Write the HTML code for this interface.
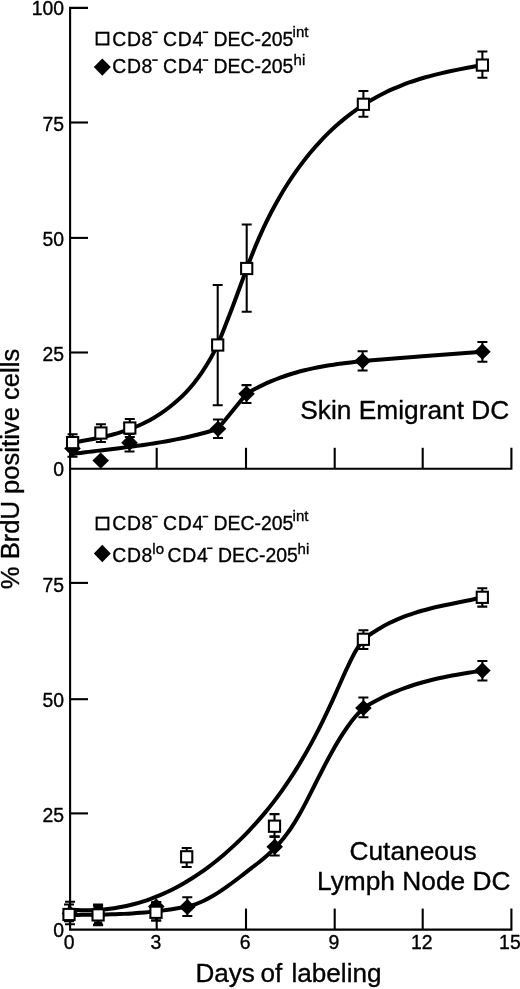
<!DOCTYPE html>
<html><head><meta charset="utf-8"><title>BrdU labeling of dendritic cells</title>
<style>html,body{margin:0;padding:0;background:#fff}body{width:520px;height:989px;overflow:hidden}svg{display:block}text{stroke:#000;stroke-width:0.35px;stroke-linejoin:round}</style>
</head><body>
<svg width="520" height="989" viewBox="0 0 520 989" font-family='"Liberation Sans", sans-serif' fill="#000">
<g fill="none" stroke="#000" stroke-width="2.10" stroke-linecap="butt" stroke-linejoin="miter">
<path d="M88,7.9 H70.10 V929.60 H511.4 V908.60"/>
<path d="M70.10,468.80 H511.4 V447.80"/>
<path d="M70.10,122.50 H88"/>
<path d="M70.10,237.90 H88"/>
<path d="M70.10,352.50 H88"/>
<path d="M70.10,582.90 H88"/>
<path d="M70.10,699.20 H88"/>
<path d="M70.10,813.40 H88"/>
<path d="M156.70,468.80 V447.80"/>
<path d="M156.70,929.60 V908.60"/>
<path d="M246.00,468.80 V447.80"/>
<path d="M246.00,929.60 V908.60"/>
<path d="M334.70,468.80 V447.80"/>
<path d="M334.70,929.60 V908.60"/>
<path d="M422.70,468.80 V447.80"/>
<path d="M422.70,929.60 V908.60"/>
</g>
<g fill="none" stroke="#000" stroke-width="4.00" stroke-linecap="round" stroke-linejoin="round">
<path d="M72.60,442.80 C73.94,442.55 77.97,441.81 80.66,441.32 C83.35,440.82 86.04,440.33 88.72,439.82 C91.41,439.31 94.10,438.79 96.78,438.23 C99.47,437.68 102.16,437.11 104.84,436.48 C107.53,435.86 110.22,435.21 112.91,434.49 C115.59,433.77 118.28,433.01 120.97,432.18 C123.65,431.34 126.34,430.45 129.03,429.47 C131.71,428.48 134.40,427.43 137.09,426.28 C139.78,425.13 142.46,423.89 145.15,422.54 C147.84,421.19 150.52,419.75 153.21,418.18 C155.90,416.60 158.59,414.93 161.27,413.10 C163.96,411.28 166.65,409.35 169.33,407.25 C172.02,405.15 174.71,402.95 177.39,400.53 C180.08,398.12 182.77,395.58 185.46,392.76 C188.14,389.95 190.83,386.96 193.52,383.64 C196.20,380.32 198.89,376.77 201.58,372.85 C204.26,368.92 206.95,364.71 209.64,360.07 C212.33,355.43 216.36,347.51 217.70,345.00 M217.70,345.00 C220.27,338.42 228.27,318.25 233.10,305.50 C237.93,292.75 244.43,274.67 246.70,268.50 M246.70,268.50 C248.05,265.03 252.12,254.27 254.83,247.70 C257.54,241.14 260.25,234.98 262.96,229.12 C265.66,223.25 268.37,217.76 271.08,212.51 C273.79,207.27 276.50,202.35 279.21,197.64 C281.92,192.94 284.63,188.52 287.34,184.28 C290.05,180.03 292.76,176.03 295.47,172.17 C298.17,168.31 300.88,164.64 303.59,161.12 C306.30,157.59 309.01,154.23 311.72,151.01 C314.43,147.80 317.14,144.73 319.85,141.80 C322.56,138.87 325.27,136.08 327.98,133.41 C330.69,130.74 333.39,128.21 336.10,125.78 C338.81,123.36 341.52,121.06 344.23,118.85 C346.94,116.65 349.65,114.56 352.36,112.56 C355.07,110.56 357.78,108.66 360.49,106.84 C363.20,105.03 365.90,103.30 368.61,101.66 C371.32,100.01 374.03,98.46 376.74,96.97 C379.45,95.48 382.16,94.08 384.87,92.74 C387.58,91.41 390.29,90.14 393.00,88.94 C395.71,87.74 398.41,86.61 401.12,85.53 C403.83,84.45 406.54,83.44 409.25,82.48 C411.96,81.51 414.67,80.61 417.38,79.74 C420.09,78.88 422.80,78.07 425.51,77.29 C428.22,76.51 430.93,75.79 433.63,75.09 C436.34,74.39 439.05,73.73 441.76,73.10 C444.47,72.46 447.18,71.86 449.89,71.28 C452.60,70.70 455.31,70.15 458.02,69.61 C460.73,69.07 463.44,68.56 466.14,68.05 C468.85,67.54 471.56,67.05 474.27,66.56 C476.98,66.07 481.05,65.34 482.40,65.10"/>
<path d="M72.50,454.00 C73.85,453.82 77.89,453.27 80.58,452.92 C83.28,452.56 85.97,452.22 88.67,451.88 C91.36,451.54 94.06,451.21 96.75,450.88 C99.44,450.55 102.14,450.23 104.83,449.90 C107.53,449.57 110.22,449.25 112.92,448.92 C115.61,448.59 118.31,448.26 121.00,447.92 C123.69,447.58 126.39,447.24 129.08,446.89 C131.78,446.54 134.47,446.19 137.17,445.82 C139.86,445.45 142.56,445.07 145.25,444.68 C147.94,444.28 150.64,443.88 153.33,443.45 C156.03,443.03 158.72,442.59 161.42,442.13 C164.11,441.68 166.81,441.20 169.50,440.70 C172.19,440.20 174.89,439.68 177.58,439.14 C180.28,438.59 182.97,438.03 185.67,437.43 C188.36,436.83 191.06,436.21 193.75,435.56 C196.44,434.90 199.14,434.22 201.83,433.51 C204.53,432.79 207.22,432.04 209.92,431.26 C212.61,430.47 216.65,429.21 218.00,428.80 M218.00,428.80 C222.75,422.97 241.75,399.63 246.50,393.80 M246.50,393.80 C247.88,393.01 252.03,390.57 254.79,389.09 C257.56,387.61 260.32,386.21 263.09,384.90 C265.85,383.58 268.61,382.34 271.38,381.18 C274.14,380.01 276.91,378.92 279.67,377.90 C282.44,376.87 285.20,375.92 287.96,375.02 C290.73,374.12 293.49,373.29 296.26,372.50 C299.02,371.72 301.79,370.99 304.55,370.31 C307.31,369.63 310.08,369.01 312.84,368.41 C315.61,367.82 318.37,367.28 321.14,366.77 C323.90,366.25 326.66,365.78 329.43,365.33 C332.19,364.89 334.96,364.47 337.72,364.08 C340.49,363.68 343.25,363.32 346.01,362.96 C348.78,362.61 351.54,362.28 354.31,361.95 C357.07,361.62 361.22,361.16 362.60,361.00 M362.60,361.00 C382.57,359.45 462.43,353.25 482.40,351.70"/>
<path d="M69.00,909.60 C70.36,909.68 74.45,910.00 77.18,910.11 C79.90,910.23 82.63,910.29 85.36,910.30 C88.08,910.30 90.81,910.25 93.53,910.14 C96.26,910.03 98.99,909.86 101.71,909.64 C104.44,909.41 107.16,909.12 109.89,908.77 C112.61,908.42 115.34,908.02 118.07,907.54 C120.79,907.07 123.52,906.54 126.24,905.94 C128.97,905.34 131.70,904.68 134.42,903.95 C137.15,903.22 139.87,902.43 142.60,901.56 C145.33,900.70 148.05,899.78 150.78,898.78 C153.50,897.78 156.23,896.72 158.96,895.58 C161.68,894.45 164.41,893.24 167.13,891.97 C169.86,890.69 172.59,889.35 175.31,887.92 C178.04,886.50 180.76,885.01 183.49,883.44 C186.21,881.88 188.94,880.24 191.67,878.52 C194.39,876.80 197.12,875.01 199.84,873.14 C202.57,871.27 205.30,869.32 208.02,867.29 C210.75,865.26 213.47,863.16 216.20,860.97 C218.93,858.79 221.65,856.52 224.38,854.18 C227.10,851.83 229.83,849.40 232.56,846.89 C235.28,844.38 238.01,841.78 240.73,839.10 C243.46,836.42 246.19,833.66 248.91,830.80 C251.64,827.93 254.36,824.98 257.09,821.91 C259.81,818.84 262.54,815.67 265.27,812.37 C267.99,809.07 270.72,805.66 273.44,802.11 C276.17,798.56 278.90,794.89 281.62,791.07 C284.35,787.24 287.07,783.29 289.80,779.16 C292.53,775.04 295.25,770.78 297.98,766.34 C300.70,761.90 303.43,757.30 306.16,752.52 C308.88,747.74 311.61,742.79 314.33,737.64 C317.06,732.49 319.79,727.16 322.51,721.63 C325.24,716.09 327.96,710.31 330.69,704.41 C333.41,698.51 336.14,692.26 338.87,686.23 C341.59,680.19 344.32,673.92 347.04,668.19 C349.77,662.45 352.50,656.63 355.22,651.82 C357.95,647.00 362.04,641.39 363.40,639.30 M363.40,639.30 C364.82,638.29 369.06,635.11 371.89,633.22 C374.72,631.32 377.55,629.57 380.39,627.92 C383.22,626.27 386.05,624.76 388.88,623.33 C391.71,621.91 394.54,620.60 397.37,619.37 C400.20,618.15 403.03,617.02 405.86,615.97 C408.70,614.91 411.53,613.95 414.36,613.04 C417.19,612.12 420.02,611.29 422.85,610.50 C425.68,609.71 428.51,608.98 431.34,608.28 C434.17,607.58 437.00,606.94 439.84,606.31 C442.67,605.67 445.50,605.08 448.33,604.49 C451.16,603.90 453.99,603.34 456.82,602.76 C459.65,602.19 462.48,601.62 465.31,601.04 C468.15,600.45 470.98,599.87 473.81,599.24 C476.64,598.62 480.88,597.62 482.30,597.30"/>
<path d="M69.00,914.90 C70.41,914.90 74.63,914.89 77.45,914.88 C80.27,914.87 83.08,914.85 85.90,914.83 C88.72,914.81 91.53,914.78 94.35,914.74 C97.17,914.70 99.98,914.65 102.80,914.59 C105.62,914.53 108.43,914.45 111.25,914.36 C114.07,914.27 116.88,914.17 119.70,914.05 C122.52,913.93 125.33,913.79 128.15,913.63 C130.97,913.47 133.78,913.30 136.60,913.10 C139.42,912.89 142.23,912.67 145.05,912.42 C147.87,912.17 150.68,911.90 153.50,911.60 C156.32,911.30 159.13,910.97 161.95,910.61 C164.77,910.25 167.58,909.86 170.40,909.44 C173.22,909.02 176.03,908.57 178.85,908.08 C181.67,907.59 185.89,906.76 187.30,906.50 M187.30,906.50 C188.63,906.13 192.64,905.20 195.30,904.28 C197.97,903.36 200.64,902.24 203.31,900.99 C205.98,899.74 208.65,898.31 211.31,896.79 C213.98,895.27 216.65,893.60 219.32,891.86 C221.99,890.12 224.65,888.26 227.32,886.36 C229.99,884.47 232.66,882.48 235.33,880.48 C238.00,878.48 240.66,876.41 243.33,874.36 C246.00,872.32 248.67,870.27 251.34,868.20 C254.00,866.13 256.67,864.12 259.34,861.96 C262.01,859.80 264.68,857.63 267.35,855.23 C270.01,852.83 272.68,850.35 275.35,847.57 C278.02,844.78 280.69,841.84 283.35,838.51 C286.02,835.19 288.69,831.62 291.36,827.62 C294.03,823.61 296.70,819.17 299.36,814.50 C302.03,809.83 304.70,804.71 307.37,799.59 C310.04,794.46 312.70,789.04 315.37,783.77 C318.04,778.50 320.71,773.10 323.38,767.96 C326.05,762.83 328.71,757.75 331.38,752.95 C334.05,748.15 336.72,743.50 339.39,739.17 C342.05,734.84 344.72,730.75 347.39,726.98 C350.06,723.21 352.73,719.71 355.40,716.54 C358.06,713.38 362.07,709.42 363.40,708.00 M363.40,708.00 C364.82,707.16 369.07,704.55 371.90,702.96 C374.73,701.36 377.57,699.86 380.40,698.43 C383.23,697.00 386.07,695.66 388.90,694.38 C391.73,693.11 394.57,691.91 397.40,690.77 C400.23,689.64 403.07,688.58 405.90,687.57 C408.73,686.56 411.57,685.62 414.40,684.73 C417.23,683.84 420.07,683.00 422.90,682.21 C425.73,681.42 428.57,680.69 431.40,679.99 C434.23,679.29 437.07,678.64 439.90,678.02 C442.73,677.39 445.57,676.81 448.40,676.26 C451.23,675.70 454.07,675.18 456.90,674.67 C459.73,674.17 462.57,673.69 465.40,673.23 C468.23,672.76 471.07,672.32 473.90,671.88 C476.73,671.44 480.98,670.81 482.40,670.60"/>
</g>
<g stroke="#000" stroke-width="2.05" fill="none">
<path d="M72.50,440.00 V456.70 M67.50,440.00 h10.00 M67.50,456.70 h10.00"/>
<path d="M129.50,434.00 V451.50 M124.50,434.00 h10.00 M124.50,451.50 h10.00"/>
<path d="M218.00,419.40 V438.00 M213.00,419.40 h10.00 M213.00,438.00 h10.00"/>
<path d="M246.50,385.10 V403.00 M241.50,385.10 h10.00 M241.50,403.00 h10.00"/>
<path d="M362.60,351.30 V370.40 M357.60,351.30 h10.00 M357.60,370.40 h10.00"/>
<path d="M482.40,341.90 V361.70 M477.40,341.90 h10.00 M477.40,361.70 h10.00"/>
<path d="M70.00,901.80 V924.30 M65.00,901.80 h10.00 M65.00,924.30 h10.00"/>
<path d="M98.10,904.50 V925.30 M93.10,904.50 h10.00 M93.10,925.30 h10.00"/>
<path d="M156.30,902.00 V920.40 M151.30,902.00 h10.00 M151.30,920.40 h10.00"/>
<path d="M187.30,897.20 V916.00 M182.30,897.20 h10.00 M182.30,916.00 h10.00"/>
<path d="M274.70,836.60 V855.50 M269.70,836.60 h10.00 M269.70,855.50 h10.00"/>
<path d="M363.40,697.50 V717.30 M358.40,697.50 h10.00 M358.40,717.30 h10.00"/>
<path d="M482.40,660.90 V680.40 M477.40,660.90 h10.00 M477.40,680.40 h10.00"/>
<path d="M72.60,434.20 V451.00 M67.60,434.20 h10.00 M67.60,451.00 h10.00"/>
<path d="M100.90,424.20 V442.00 M95.90,424.20 h10.00 M95.90,442.00 h10.00"/>
<path d="M129.80,419.00 V437.00 M124.80,419.00 h10.00 M124.80,437.00 h10.00"/>
<path d="M217.70,285.00 V405.30 M212.70,285.00 h10.00 M212.70,405.30 h10.00"/>
<path d="M246.70,224.50 V311.80 M241.70,224.50 h10.00 M241.70,311.80 h10.00"/>
<path d="M363.40,90.90 V116.80 M358.40,90.90 h10.00 M358.40,116.80 h10.00"/>
<path d="M482.40,51.40 V77.80 M477.40,51.40 h10.00 M477.40,77.80 h10.00"/>
<path d="M69.00,904.50 V921.20 M64.00,904.50 h10.00 M64.00,921.20 h10.00"/>
<path d="M98.10,905.50 V924.50 M93.10,905.50 h10.00 M93.10,924.50 h10.00"/>
<path d="M156.00,903.00 V920.40 M151.00,903.00 h10.00 M151.00,920.40 h10.00"/>
<path d="M186.70,848.00 V866.90 M181.70,848.00 h10.00 M181.70,866.90 h10.00"/>
<path d="M274.50,814.10 V836.60 M269.50,814.10 h10.00 M269.50,836.60 h10.00"/>
<path d="M363.40,630.20 V649.00 M358.40,630.20 h10.00 M358.40,649.00 h10.00"/>
<path d="M482.30,588.20 V606.60 M477.30,588.20 h10.00 M477.30,606.60 h10.00"/>
</g>
<path d="M64.20,448.40 L72.50,440.30 L80.80,448.40 L72.50,456.50 Z" fill="#000"/>
<path d="M92.40,460.60 L100.70,452.50 L109.00,460.60 L100.70,468.70 Z" fill="#000"/>
<path d="M121.20,442.70 L129.50,434.60 L137.80,442.70 L129.50,450.80 Z" fill="#000"/>
<path d="M209.70,428.80 L218.00,420.70 L226.30,428.80 L218.00,436.90 Z" fill="#000"/>
<path d="M238.20,393.80 L246.50,385.70 L254.80,393.80 L246.50,401.90 Z" fill="#000"/>
<path d="M354.30,361.00 L362.60,352.90 L370.90,361.00 L362.60,369.10 Z" fill="#000"/>
<path d="M474.10,351.70 L482.40,343.60 L490.70,351.70 L482.40,359.80 Z" fill="#000"/>
<rect x="67.00" y="437.00" width="11.20" height="11.20" fill="#fff" stroke="#000" stroke-width="2.05"/>
<rect x="95.30" y="427.40" width="11.20" height="11.20" fill="#fff" stroke="#000" stroke-width="2.05"/>
<rect x="124.20" y="422.40" width="11.20" height="11.20" fill="#fff" stroke="#000" stroke-width="2.05"/>
<rect x="212.10" y="339.40" width="11.20" height="11.20" fill="#fff" stroke="#000" stroke-width="2.05"/>
<rect x="241.10" y="262.90" width="11.20" height="11.20" fill="#fff" stroke="#000" stroke-width="2.05"/>
<rect x="357.80" y="98.70" width="11.20" height="11.20" fill="#fff" stroke="#000" stroke-width="2.05"/>
<rect x="476.80" y="59.50" width="11.20" height="11.20" fill="#fff" stroke="#000" stroke-width="2.05"/>
<path d="M61.70,913.50 L70.00,905.40 L78.30,913.50 L70.00,921.60 Z" fill="#000"/>
<path d="M89.80,914.90 L98.10,906.80 L106.40,914.90 L98.10,923.00 Z" fill="#000"/>
<path d="M148.00,906.50 L156.30,898.40 L164.60,906.50 L156.30,914.60 Z" fill="#000"/>
<path d="M179.00,907.00 L187.30,898.90 L195.60,907.00 L187.30,915.10 Z" fill="#000"/>
<path d="M266.40,846.80 L274.70,838.70 L283.00,846.80 L274.70,854.90 Z" fill="#000"/>
<path d="M355.10,708.00 L363.40,699.90 L371.70,708.00 L363.40,716.10 Z" fill="#000"/>
<path d="M474.10,670.60 L482.40,662.50 L490.70,670.60 L482.40,678.70 Z" fill="#000"/>
<rect x="63.40" y="908.90" width="11.20" height="11.20" fill="#fff" stroke="#000" stroke-width="2.05"/>
<rect x="92.50" y="909.30" width="11.20" height="11.20" fill="#fff" stroke="#000" stroke-width="2.05"/>
<rect x="150.40" y="906.70" width="11.20" height="11.20" fill="#fff" stroke="#000" stroke-width="2.05"/>
<rect x="181.10" y="851.20" width="11.20" height="11.20" fill="#fff" stroke="#000" stroke-width="2.05"/>
<rect x="268.90" y="820.60" width="11.20" height="11.20" fill="#fff" stroke="#000" stroke-width="2.05"/>
<rect x="357.80" y="633.70" width="11.20" height="11.20" fill="#fff" stroke="#000" stroke-width="2.05"/>
<rect x="476.70" y="591.70" width="11.20" height="11.20" fill="#fff" stroke="#000" stroke-width="2.05"/>
<rect x="93.4" y="904.5" width="9.6" height="3.8"/><rect x="94" y="921.5" width="8.2" height="3.8"/>
<rect x="96.65" y="32.75" width="11.70" height="11.70" fill="#fff" stroke="#000" stroke-width="2.05"/>
<path d="M93.80,67.10 L102.30,58.45 L110.80,67.10 L102.30,75.75 Z" fill="#000"/>
<text x="112.2" y="45.50" font-size="19.4" letter-spacing="0.7">CD8</text>
<path d="M152.2,32.30 h5.5" stroke="#000" stroke-width="1.6"/>
<text x="163" y="45.50" font-size="19.4" letter-spacing="0.7">CD4</text>
<path d="M202.7,32.30 h5.5" stroke="#000" stroke-width="1.6"/>
<text x="213.5" y="45.50" font-size="19.4">DEC-205</text>
<text x="112.2" y="73.30" font-size="19.4" letter-spacing="0.7">CD8</text>
<path d="M152.2,60.10 h5.5" stroke="#000" stroke-width="1.6"/>
<text x="163" y="73.30" font-size="19.4" letter-spacing="0.7">CD4</text>
<path d="M202.7,60.10 h5.5" stroke="#000" stroke-width="1.6"/>
<text x="213.5" y="73.30" font-size="19.4">DEC-205</text>
<text x="292.6" y="36.8" font-size="15">int</text>
<text x="293.6" y="64.5" font-size="15">hi</text>
<rect x="96.65" y="517.65" width="11.70" height="11.70" fill="#fff" stroke="#000" stroke-width="2.05"/>
<path d="M93.80,553.50 L102.30,544.85 L110.80,553.50 L102.30,562.15 Z" fill="#000"/>
<text x="112.2" y="529.80" font-size="19.4" letter-spacing="0.7">CD8</text>
<path d="M152.2,516.60 h5.5" stroke="#000" stroke-width="1.6"/>
<text x="163" y="529.80" font-size="19.4" letter-spacing="0.7">CD4</text>
<path d="M202.7,516.60 h5.5" stroke="#000" stroke-width="1.6"/>
<text x="213.5" y="529.80" font-size="19.4">DEC-205</text>
<text x="112.2" y="561.50" font-size="19.4" letter-spacing="0.7">CD8</text>
<text x="152.3" y="553.80" font-size="15">lo</text>
<text x="167.5" y="561.50" font-size="19.4" letter-spacing="0.7">CD4</text>
<path d="M207.1,548.30 h5.4" stroke="#000" stroke-width="1.6"/>
<text x="218.1" y="561.50" font-size="19.4">DEC-205</text>
<text x="292.6" y="521.2" font-size="15">int</text>
<text x="297.6" y="553.8" font-size="15">hi</text>
<text x="64.1" y="15.40" font-size="19.4" text-anchor="end">100</text>
<text x="64.1" y="130.90" font-size="19.4" text-anchor="end">75</text>
<text x="64.1" y="246.20" font-size="19.4" text-anchor="end">50</text>
<text x="64.1" y="361.00" font-size="19.4" text-anchor="end">25</text>
<text x="64.1" y="476.40" font-size="19.4" text-anchor="end">0</text>
<text x="64.1" y="591.50" font-size="19.4" text-anchor="end">75</text>
<text x="64.1" y="707.20" font-size="19.4" text-anchor="end">50</text>
<text x="64.1" y="821.90" font-size="19.4" text-anchor="end">25</text>
<text x="64.1" y="936.90" font-size="19.4" text-anchor="end">0</text>
<text x="69.20" y="949.1" font-size="19.4" text-anchor="middle">0</text>
<text x="155.80" y="949.1" font-size="19.4" text-anchor="middle">3</text>
<text x="245.10" y="949.1" font-size="19.4" text-anchor="middle">6</text>
<text x="333.80" y="949.1" font-size="19.4" text-anchor="middle">9</text>
<text x="421.80" y="949.1" font-size="19.4" text-anchor="middle">12</text>
<text x="509.90" y="949.1" font-size="19.4" text-anchor="middle">15</text>
<text x="300.3" y="419.3" font-size="26.3">Skin Emigrant DC</text>
<text x="349.5" y="859.7" font-size="26.3">Cutaneous</text>
<text x="317" y="890.4" font-size="26.3">Lymph Node DC</text>
<text x="195.4" y="981.6" font-size="26.1">Days<tspan dx="-1.7"> of</tspan><tspan dx="2.1"> labeling</tspan></text>
<text transform="translate(19.3,589.2) rotate(-90)" font-size="25.6">% BrdU positive cells</text>
</svg>
</body></html>
